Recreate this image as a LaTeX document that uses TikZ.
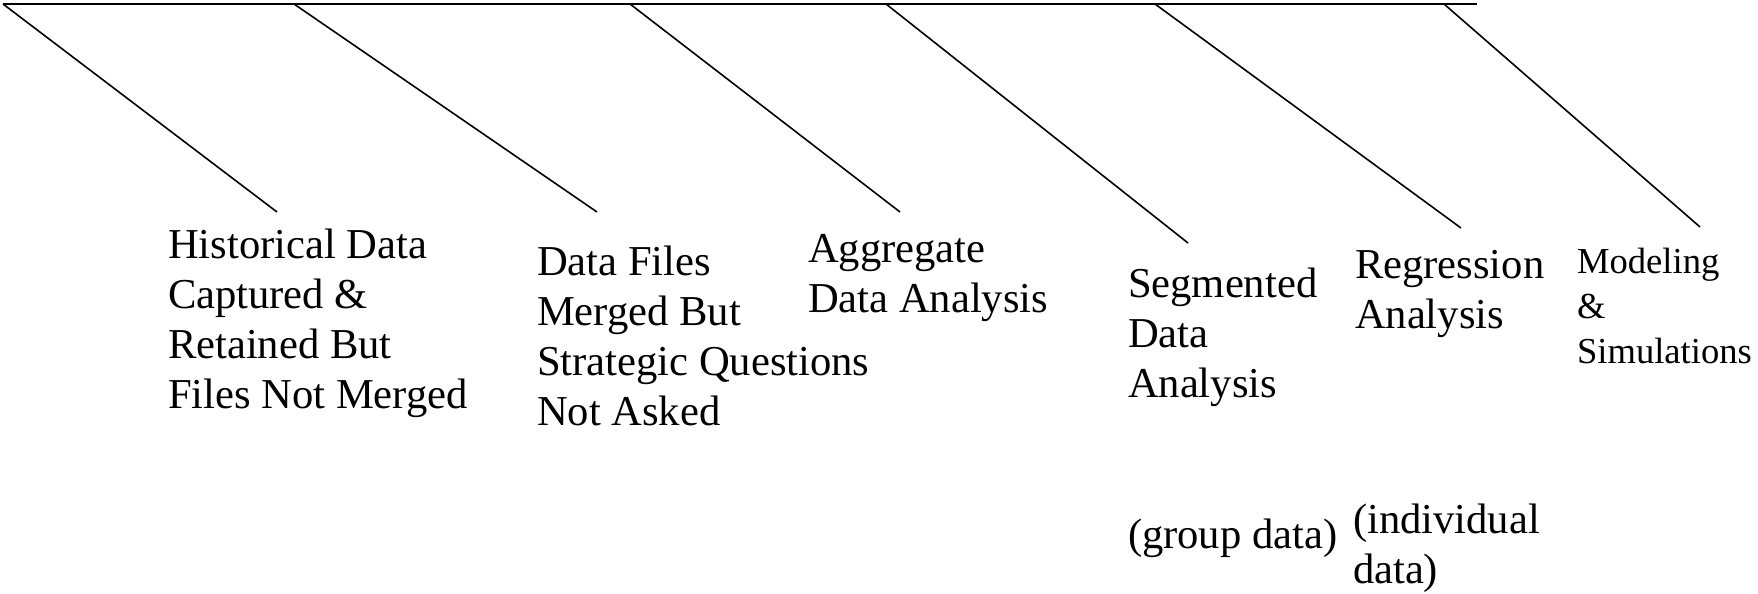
\documentclass[tikz,border=0pt]{standalone}
\usepackage{fontspec}
\setmainfont{Liberation Serif}
\tikzset{
  rule/.style={line width=1.6pt, black},
  lbl/.style={anchor=base west, inner sep=0pt, outer sep=0pt,
    font=\fontsize{42.6}{50}\selectfont},
  smalllbl/.style={anchor=base west, inner sep=0pt, outer sep=0pt,
    font=\fontsize{36.6}{45}\selectfont}
}
\newcommand{\lines}[1]{\begin{tabular}[t]{@{}l@{}}#1\end{tabular}}
\begin{document}
\begin{tikzpicture}[x=1pt,y=-1pt]
\useasboundingbox (0,0) rectangle (1758,594);
% top rule
\coordinate (tl) at (3,4);
\coordinate (tr) at (1477,4);
\draw[rule] (tl) -- (tr);
% start points on the top rule
\coordinate (s1) at (3,4);
\coordinate (s2) at (294,4);
\coordinate (s3) at (630,4);
\coordinate (s4) at (886,4);
\coordinate (s5) at (1155,4);
\coordinate (s6) at (1444,4);
% end points
\coordinate (e1) at (277,212);
\coordinate (e2) at (597,212);
\coordinate (e3) at (900,212);
\coordinate (e4) at (1188,243);
\coordinate (e5) at (1461,228);
\coordinate (e6) at (1700,227);
\foreach \i in {1,...,6} \draw[rule] (s\i) -- (e\i);
% labels
\node[lbl] (hist) at (168,258) {\lines{Historical Data\\Captured \&\\Retained But\\Files Not Merged}};
\node[lbl] (files) at (537,275) {\lines{Data Files\\Merged But\\Strategic Questions\\Not Asked}};
\node[lbl] (aggr) at (808,262) {\lines{Aggregate\\Data Analysis}};
\node[lbl] (segm) at (1128,297) {\lines{Segmented\\Data\\Analysis}};
\node[lbl] (regr) at (1355,278) {\lines{Regression\\Analysis}};
\node[smalllbl] (model) at (1577,273) {\lines{Modeling\\\&\\Simulations}};
\node[lbl] (group) at (1128,548) {(group data)};
\node[lbl] (indiv) at (1353,533) {\lines{(individual\\data)}};
\end{tikzpicture}
\end{document}
